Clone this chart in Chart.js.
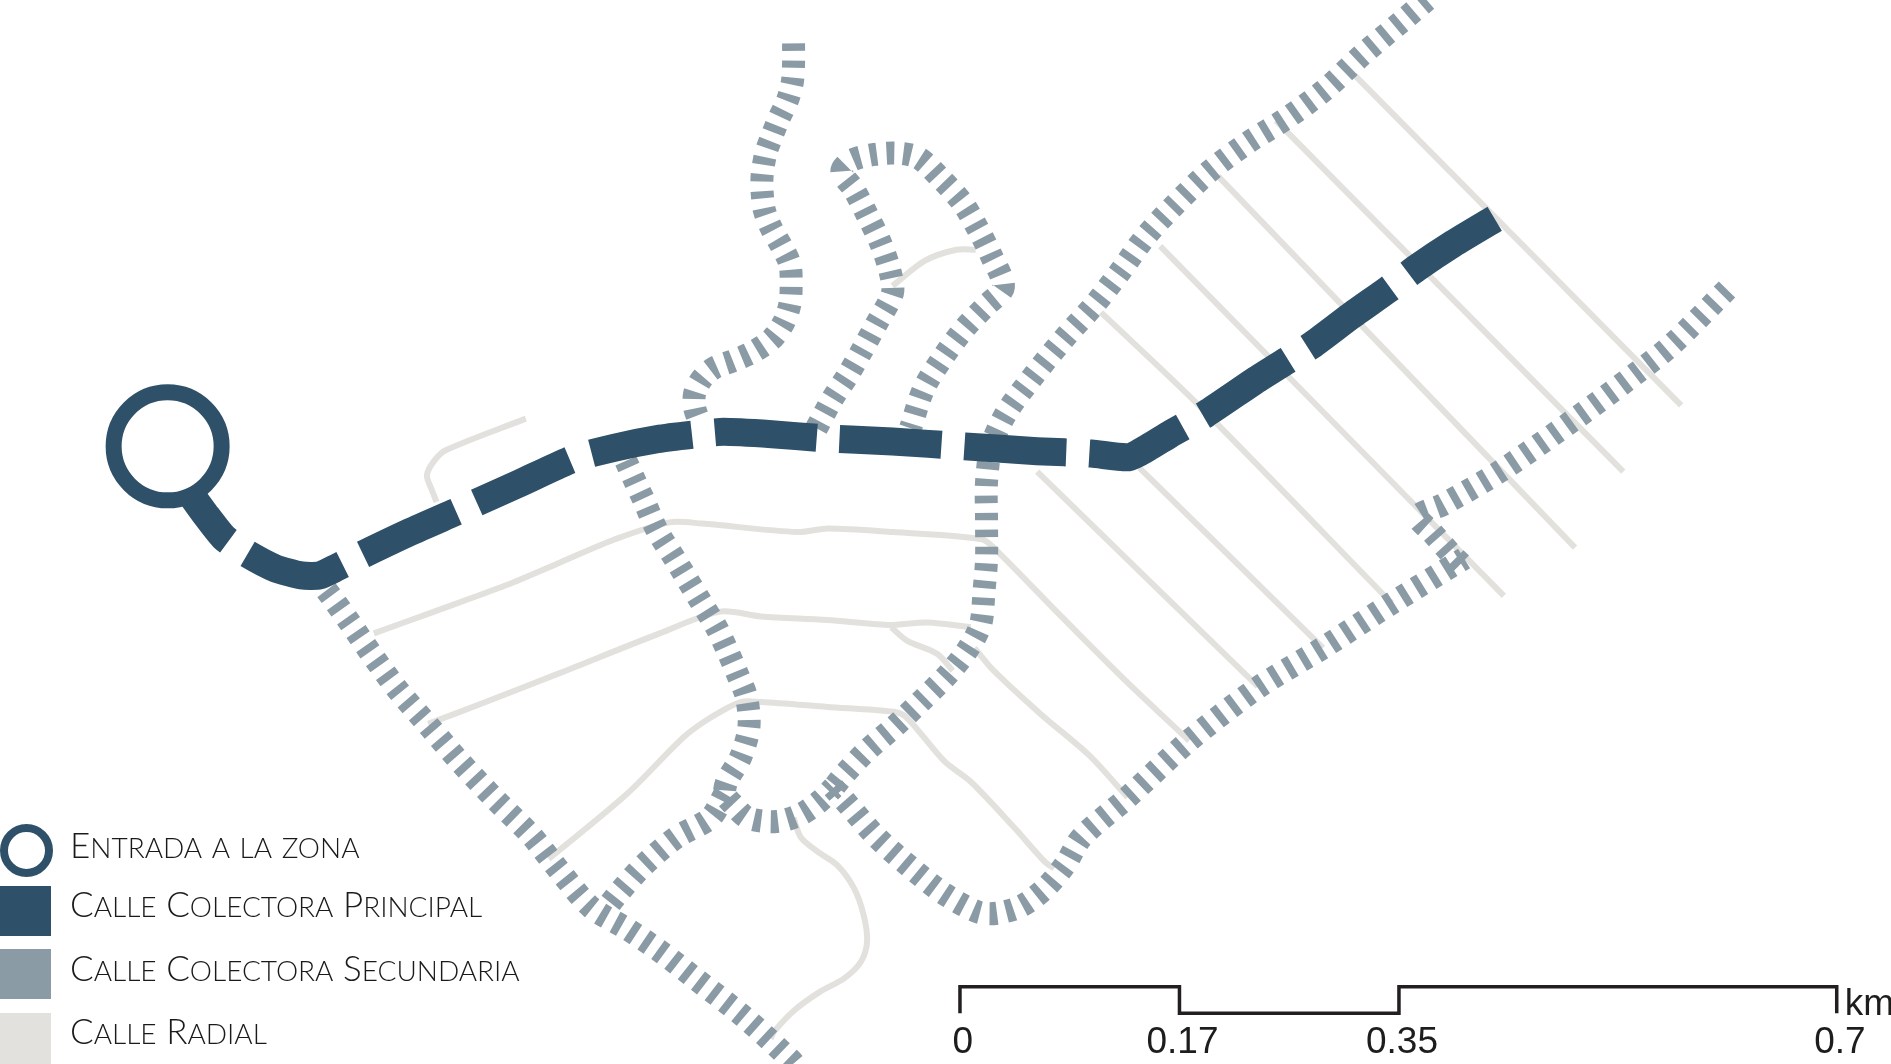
<!DOCTYPE html>
<html lang="es">
<head>
<meta charset="utf-8">
<title>Calles de la zona</title>
<script src="https://cdn.jsdelivr.net/npm/chart.js@4.4.1/dist/chart.umd.min.js"></script>
<style>
    html, body { margin: 0; padding: 0; background: #ffffff; overflow: hidden; }
    #wrap { position: relative; width: 1891px; height: 1064px; }
    #mapa { position: absolute; left: 0; top: 0; }
    .marca { position: absolute; left: 0; box-sizing: border-box; }
    .texto { position: absolute; left: 70px; white-space: nowrap; line-height: 1;
             font-family: 'Lato', 'Noto Sans', sans-serif; font-weight: 300; font-size: 35px;
             letter-spacing: 0; color: #1a1a1a; }
    .texto .sc { font-size: 0.8em; text-transform: uppercase; }
    .escala { position: absolute; white-space: nowrap; line-height: 1;
              font-family: 'Liberation Sans', Arial, sans-serif; font-size: 37px; color: #1d1d1b; }
</style>
</head>
<body>
<div id="wrap">
    <canvas id="mapa" width="1891" height="1064"></canvas>
    <div id="leyenda"></div>
    <div id="rotulos"></div>
</div>
<script>
// coordenadas del plano: x hacia la derecha, y hacia abajo (0..1568 x 0..882)
const entrada = [[139, 370]];

const colectoraPrincipal = [
    [157, 408], [170, 426], [186, 446], [205, 459], [228, 471], [250, 477], [265, 477],
    [280, 470], [300, 460], [340, 441], [381, 423], [430, 401], [476, 380], [510, 371],
    [545, 364], [577, 360], [600, 358], [640, 360], [680, 363], [740, 366], [800, 370],
    [860, 374], [905, 376], [936, 379], [952, 371], [970, 360], [1000, 343], [1040, 316],
    [1067, 299], [1088, 286], [1120, 262], [1151, 240], [1175, 222], [1205, 202], [1240, 181]
];

const secundariaNorte = [
    [658, 36], [658, 53], [657, 68], [653, 83], [646, 98], [640, 113], [635, 127], [632, 145],
    [632, 160], [634, 175], [640, 190], [648, 204], [655, 219], [656, 237], [655, 252],
    [650, 267], [640, 281], [624, 292], [608, 299], [592, 305], [582, 314], [576, 326],
    [576, 338], [580, 350]
];

const secundariaHorquilla = [
    [677, 355], [690, 331], [703, 311], [715, 290], [727, 268], [740, 243], [738, 225],
    [730, 201], [719, 178], [708, 157], [698, 142], [706, 133], [725, 128], [745, 127],
    [762, 131], [780, 148], [798, 168], [811, 190], [822, 212], [832, 238], [818, 253],
    [800, 272], [782, 296], [766, 322], [755, 355]
];

const secundariaDiagonal = [
    [1183, 0], [1162, 18], [1130, 45], [1099, 74], [1067, 98], [1035, 118], [1003, 142],
    [972, 172], [950, 196], [929, 225], [908, 252], [882, 281], [855, 314], [834, 343],
    [822, 370], [818, 400], [818, 430], [818, 464], [816, 489], [813, 518], [802, 539],
    [786, 559], [764, 581], [741, 603], [719, 622], [700, 642], [691, 653]
];

const secundariaOeste = [
    [262, 478], [275, 495], [290, 516], [310, 545], [330, 572], [355, 601], [380, 630],
    [410, 662], [440, 692], [464, 722], [490, 752], [520, 770], [548, 789], [575, 810],
    [617, 843], [655, 878], [662, 886]
];

const secundariaCentro = [
    [519, 382], [527, 400], [534, 415], [545, 440], [560, 464], [580, 497], [594, 520],
    [603, 539], [612, 560], [619, 578], [621, 603], [614, 628], [603, 647], [601, 658],
    [608, 667], [620, 678], [644, 681], [664, 675], [680, 664], [691, 653]
];

const secundariaRamal = [
    [601, 658], [589, 678], [561, 694], [534, 717], [514, 739], [505, 750]
];

const secundariaSur = [
    [691, 653], [705, 669], [727, 694], [755, 719], [783, 741], [811, 756], [827, 757],
    [847, 751], [866, 737], [883, 717], [897, 694], [935, 661], [986, 614], [1043, 570],
    [1097, 537], [1154, 500], [1214, 463]
];

const secundariaEste = [
    [1432, 240], [1387, 285], [1356, 310], [1305, 348], [1245, 390], [1197, 418],
    [1176, 428], [1188, 442], [1204, 460], [1212, 468]
];

const radialA = [
    [310, 525], [360, 507], [420, 485], [465, 466], [510, 447], [555, 433], [582, 434],
    [661, 441], [687, 438], [740, 441], [814, 447], [826, 456], [880, 511], [932, 563], [986, 614]
];
const radialB = [
    [355, 600], [400, 583], [464, 558], [547, 525], [597, 507], [631, 511], [686, 514],
    [736, 518], [769, 516], [805, 520]
];
const radialB2 = [[739, 520], [752, 531], [777, 542], [790, 556]];
const radialB3 = [[808, 537], [824, 556], [863, 592], [903, 626], [935, 661]];
const radialC = [
    [455, 712], [520, 658], [567, 611], [589, 595], [614, 582], [631, 582], [686, 586],
    [741, 590], [752, 595], [783, 631], [805, 648], [841, 686], [866, 714], [874, 720]
];
const radialD = [
    [658, 678], [664, 694], [678, 706], [694, 717], [708, 736], [716, 758], [719, 780],
    [714, 797], [700, 811], [680, 822], [658, 838], [642, 855], [639, 861]
];
const radialE = [[436, 347], [370, 373], [360, 382], [354, 394], [358, 406], [362, 416]];
const radialF = [[740, 237], [767, 216], [793, 207], [809, 207]];
const radial1 = [[1123, 62], [1394, 336]];
const radial2 = [[1058, 100], [1346, 391]];
const radial3 = [[1010, 146], [1306, 454]];
const radial4 = [[962, 204], [1247, 494]];
const radial5 = [[913, 259], [993, 335], [1154, 500]];
const radial6 = [[860, 391], [1043, 569]];
const radial7 = [[945, 388], [1097, 537]];

// barra de escala
const escalaKm = ['0', '0.17', '0.35', '0.7'];
const escalaX = [796, 978, 1160, 1523];
const escalaY = [818, 840];

const leyendaTextos = ['Entrada a la zona', 'Calle Colectora Principal', 'Calle Colectora Secundaria', 'Calle Radial'];

const AZUL = '#2e5068';
const GRIS = '#8a9ba5';
const CLARO = '#e2e1dd';

const pts = a => a.map(p => ({ x: p[0], y: p[1] }));

function radial(data) {
    return { data: pts(data), showLine: true, borderColor: CLARO, borderWidth: 6,
             pointRadius: 0, tension: 0.3, borderCapStyle: 'butt', order: 3 };
}

function secundaria(data) {
    return { data: pts(data), showLine: true, borderColor: GRIS, borderWidth: 23,
             borderDash: [7.5, 9.5], pointRadius: 0, tension: 0.3, borderCapStyle: 'butt', order: 2 };
}

const barra = [[escalaX[0], escalaY[1]], [escalaX[0], escalaY[0]], [escalaX[1], escalaY[0]],
               [escalaX[1], escalaY[1]], [escalaX[2], escalaY[1]], [escalaX[2], escalaY[0]],
               [escalaX[3], escalaY[0]], [escalaX[3], escalaY[1]]];

const datasets = [
    radialA, radialB, radialB2, radialB3, radialC, radialD, radialE, radialF,
    radial1, radial2, radial3, radial4, radial5, radial6, radial7
].map(radial).concat([
    secundariaNorte, secundariaHorquilla, secundariaDiagonal, secundariaOeste,
    secundariaCentro, secundariaRamal, secundariaSur, secundariaEste
].map(secundaria));

datasets.push({
    data: pts(colectoraPrincipal), showLine: true, borderColor: AZUL, borderWidth: 28,
    borderDash: [102, 23], borderDashOffset: 39, borderCapStyle: 'butt', borderJoinStyle: 'round',
    pointRadius: 0, tension: 0.2, order: 1
});
datasets.push({
    data: pts(entrada), showLine: false, pointRadius: 54, pointBorderWidth: 16,
    pointBorderColor: AZUL, pointBackgroundColor: 'rgba(255,255,255,0)', order: 0
});
datasets.push({
    data: pts(barra), showLine: true, borderColor: '#231f20', borderWidth: 3.5,
    borderJoinStyle: 'miter', pointRadius: 0, tension: 0, order: 0
});

// rotulos de la escala, colocados con la escala x del grafico
const rotulos = document.getElementById('rotulos');
const etiquetas = escalaKm.map(t => {
    const d = document.createElement('div');
    d.className = 'escala';
    d.textContent = t;
    rotulos.appendChild(d);
    return d;
});
const km = document.createElement('div');
km.className = 'escala';
km.textContent = 'km';
rotulos.appendChild(km);

const colocarRotulos = {
    id: 'colocarRotulos',
    afterDraw(chart) {
        const sx = chart.scales.x, sy = chart.scales.y;
        etiquetas.forEach((d, i) => {
            d.style.left = (sx.getPixelForValue(escalaX[i]) - d.offsetWidth / 2 + 3) + 'px';
            d.style.top = (sy.getPixelForValue(escalaY[1]) + 9) + 'px';
        });
        km.style.left = (sx.getPixelForValue(escalaX[3]) + 8) + 'px';
        km.style.top = (sy.getPixelForValue(escalaY[0]) - 3) + 'px';
    }
};

new Chart(document.getElementById('mapa'), {
    type: 'scatter',
    data: { datasets: datasets },
    options: {
        responsive: false,
        animation: false,
        events: [],
        layout: { padding: 0, autoPadding: false },
        plugins: { legend: { display: false }, tooltip: { enabled: false } },
        scales: {
            x: { type: 'linear', min: 0, max: 1568, display: false },
            y: { type: 'linear', min: 0, max: 882, reverse: true, display: false }
        }
    },
    plugins: [colocarRotulos]
});

// leyenda
const leyenda = document.getElementById('leyenda');
const marcas = [
    { top: 824, h: 53, css: 'width:53px;border:8px solid ' + AZUL + ';border-radius:50%;' },
    { top: 886, h: 50, css: 'width:51px;background:' + AZUL + ';' },
    { top: 949, h: 50, css: 'width:51px;background:' + GRIS + ';' },
    { top: 1013, h: 51, css: 'width:51px;background:' + CLARO + ';' }
];
const textoTop = [827, 886, 950, 1013];

leyendaTextos.forEach((t, i) => {
    const m = document.createElement('div');
    m.className = 'marca';
    m.style.cssText = 'top:' + marcas[i].top + 'px;height:' + marcas[i].h + 'px;' + marcas[i].css;
    leyenda.appendChild(m);

    // versalitas: mayuscula inicial a tamano completo, resto reducido
    const d = document.createElement('div');
    d.className = 'texto';
    d.style.top = textoTop[i] + 'px';
    t.split(/(\s+)/).forEach(w => {
        if (!w.trim()) { d.appendChild(document.createTextNode(w)); return; }
        const first = w[0];
        if (first === first.toUpperCase()) {
            d.appendChild(document.createTextNode(first));
            const s = document.createElement('span');
            s.className = 'sc';
            s.textContent = w.slice(1);
            d.appendChild(s);
        } else {
            const s = document.createElement('span');
            s.className = 'sc';
            s.textContent = w;
            d.appendChild(s);
        }
    });
    leyenda.appendChild(d);
});
</script>
</body>
</html>
